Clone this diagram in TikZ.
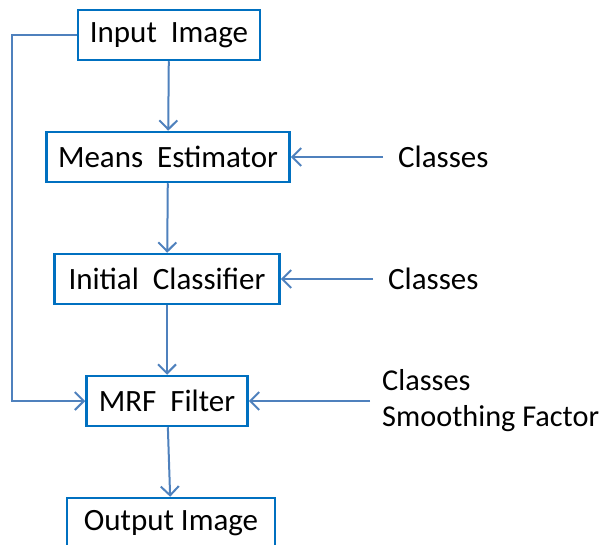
\documentclass[tikz,border=0pt]{standalone}
\usepackage{fontspec}
\setmainfont{Carlito}
\usepackage{tikz}
\usetikzlibrary{positioning,arrows.meta}
\definecolor{boxblue}{RGB}{0,112,192}
\definecolor{lineblue}{RGB}{79,129,189}

\begin{document}
\begin{tikzpicture}[x=1pt,y=-1pt,font=\fontsize{31}{36}\selectfont,
    block/.style={draw=boxblue,line width=2.5pt,minimum height=50pt,inner sep=0pt},
    flow/.style={draw=lineblue,line width=2pt,-{Straight Barb[length=9pt,width=18pt]}},
    param/.style={anchor=west,inner xsep=15pt,inner ysep=0pt,align=left}]
    \useasboundingbox (0,0) rectangle (604,545);
    % processing chain
    \node[block,minimum width=182pt] (input) at (169,35) {Input\ \ Image};
    \node[block,minimum width=243pt] (means) at (168,157) {Means\ \ Estimator};
    \node[block,minimum width=225pt] (init) at (167,279) {Initial\ \ Classifier};
    \node[block,minimum width=161pt] (mrf) at (167,401) {MRF\ \ Filter};
    \node[block,minimum width=208pt] (output) at (171,523) {Output Image};
    % parameters
    \node[param] (cls1) at (383,157) {Classes};
    \node[param] (cls2) at (373,279) {Classes};
    \node[param,inner xsep=12pt,font=\fontsize{30.3}{36}\selectfont] (cls3) at (370,401) {Classes\\Smoothing Factor};
    \draw[flow] (input) -- (means);
    \draw[flow] (means) -- (init);
    \draw[flow] (init) -- (mrf);
    \draw[flow] (mrf) -- (output);
    \draw[flow] (cls1.west) -- (means.east);
    \draw[flow] (cls2.west) -- (init.east);
    \draw[flow] (cls3.west) -- (mrf.east);
    \draw[flow] (input.west) -- ++(-65,0) |- (mrf.west);
\end{tikzpicture}
\end{document}
